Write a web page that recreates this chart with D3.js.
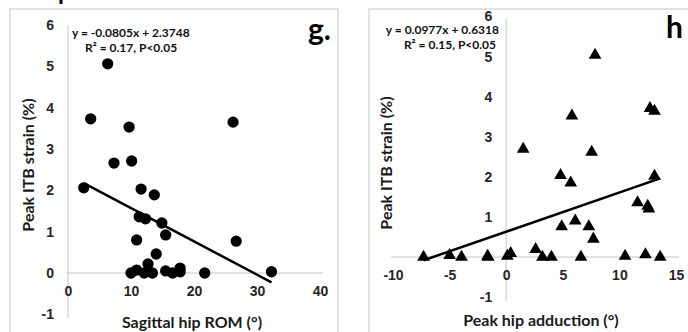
<!DOCTYPE html>
<meta charset="utf-8">
<style>
body { margin: 0; background: #fff; }
svg { font-family: Lato, "Open Sans", sans-serif; font-weight: bold; }
.frame { fill: none; stroke: #d9d9d9; stroke-width: 1.5; }
.zero { stroke: #d9d9d9; stroke-width: 1.5; }
.tick text { font-size: 14px; fill: #262626; }
.eq { font-size: 12px; fill: #111; }
.title { font-size: 16px; fill: #1a1a1a; }
.trend { stroke: #000; stroke-width: 2.5; }
</style>
<svg width="688" height="332"></svg>
<script src="https://cdn.jsdelivr.net/npm/d3@7"></script>
<script>

// panel g: sagittal hip ROM vs peak ITB strain
var romX = [6.3, 3.6, 9.7, 26.2, 7.3, 10.1, 2.5, 11.6, 13.7, 11.3, 12.3, 14.9, 15.5, 10.9, 26.7, 14.0, 12.7,
            10.0, 10.9, 12.1, 13.4, 15.5, 16.6, 17.8, 17.8, 21.7, 32.3];
var romY = [5.06, 3.73, 3.53, 3.65, 2.66, 2.71, 2.06, 2.03, 1.89, 1.36, 1.31, 1.21, 0.92, 0.80, 0.77, 0.46, 0.22,
            0, 0.07, 0, 0, 0.05, 0, 0.12, 0.03, 0, 0.03];
var romFit = [-0.0805, 2.3748];

// panel h: peak hip adduction vs peak ITB strain
var addX = [7.85, 5.8, 12.7, 13.1, 1.5, 7.55, 4.8, 5.7, 13.1, 11.6, 12.5, 12.6, 4.9, 6.1, 7.3, 7.7,
            6.6, 10.5, 12.3, 13.6, 3.2, 4.0, -7.3, -5.0, -3.95, -1.65, -1.6, 0.1, 0.4, 2.6];
var addY = [5.04, 3.52, 3.71, 3.64, 2.69, 2.62, 2.04, 1.85, 2.02, 1.36, 1.27, 1.20, 0.76, 0.90, 0.76, 0.45,
            0, 0.02, 0.06, 0, 0, 0, 0, 0.04, 0, 0.02, 0, 0.02, 0.09, 0.19];
var addFit = [0.0977, 0.6318];

var yTicks = [-1, 0, 1, 2, 3, 4, 5, 6];
var yTicksH = [-1, 1, 2, 3, 4, 5, 6];
var romTicks = [0, 10, 20, 30, 40];
var addTicks = [-10, -5, 0, 5, 10, 15];

var svg = d3.select("svg");

// bit of the caption letter above, cut off by the crop
svg.append("text").attr("x", 58).attr("y", 0).style("font-size", "24px").text("p");

svg.append("rect").attr("class", "frame").attr("x", 10).attr("y", 9).attr("width", 328).attr("height", 340);
svg.append("rect").attr("class", "frame").attr("x", 369).attr("y", 9).attr("width", 340).attr("height", 340);

var fmt = function(d) { return d < 0 ? "-" + Math.abs(d) : String(d); };

function panel(opt) {
  var x = d3.scaleLinear().domain(opt.xDom).range(opt.xRange);
  var y = d3.scaleLinear().domain([0, 6]).range(opt.yRange);
  var g = svg.append("g");

  g.append("line").attr("class", "zero")
      .attr("x1", x(opt.xDom[0]) - 2).attr("x2", x(opt.xDom[1]) + 3)
      .attr("y1", y(0)).attr("y2", y(0));
  g.append("line").attr("class", "zero")
      .attr("x1", x(0)).attr("x2", x(0))
      .attr("y1", y(6) + opt.yTop).attr("y2", y(-1) + 4);

  var ya = g.append("g").attr("transform", "translate(" + x(0) + ",0)")
      .call(d3.axisLeft(y).tickValues(opt.yTicks).tickSize(0).tickPadding(opt.yPad).tickFormat(fmt));
  ya.select(".domain").remove();

  var xa = g.append("g").attr("transform", "translate(0," + y(0) + ")")
      .call(d3.axisBottom(x).tickValues(opt.xTicks).tickSize(0).tickPadding(13).tickFormat(fmt));
  xa.select(".domain").remove();
  g.selectAll(".tick text").attr("font-family", null).attr("font-size", null);

  var xe = d3.extent(opt.xs);
  g.append("line").attr("class", "trend")
      .attr("x1", x(xe[0])).attr("y1", y(opt.fit[0] * xe[0] + opt.fit[1]))
      .attr("x2", x(xe[1])).attr("y2", y(opt.fit[0] * xe[1] + opt.fit[1]));

  g.selectAll(".pt").data(opt.xs).enter().append("path")
      .attr("d", d3.symbol().type(opt.symbol).size(opt.symSize))
      .attr("transform", function(d, i) { return "translate(" + x(d) + "," + y(opt.ys[i]) + ")"; })
      .attr("fill", "#000");

  g.append("text").attr("class", "title").attr("text-anchor", "middle")
      .attr("x", opt.xTitle[0]).attr("y", opt.xTitle[1]).text(opt.xLabel);
  g.append("text").attr("class", "title").attr("text-anchor", "middle")
      .attr("transform", "translate(" + opt.yTitle[0] + "," + opt.yTitle[1] + ") rotate(-90)")
      .text("Peak ITB strain (%)");

  g.append("text").attr("class", "eq").attr("text-anchor", opt.eqAnchor)
      .attr("x", opt.eq[0]).attr("y", opt.eq[1]).text(opt.eqLines[0]);
  g.append("text").attr("class", "eq").attr("text-anchor", opt.eqAnchor)
      .attr("x", opt.eq[2]).attr("y", opt.eq[1] + 15).text(opt.eqLines[1]);

  g.append("text").attr("x", opt.letter[0]).attr("y", opt.letter[1])
      .style("font-size", "30px").text(opt.letterText);
}

panel({
  xDom: [0, 40], xRange: [68, 320], yRange: [273, 25], yTop: 0, yPad: 14,
  xs: romX, ys: romY, fit: romFit, yTicks: yTicks, xTicks: romTicks,
  symbol: d3.symbolCircle, symSize: 100,
  xLabel: "Sagittal hip ROM (\u00b0)", xTitle: [192, 328], yTitle: [34, 165],
  eqAnchor: "start", eq: [72, 37, 85],
  eqLines: ["y = -0.0805x + 2.3748", "R\u00b2 = 0.17, P<0.05"],
  letter: [308, 40], letterText: "g."
});

panel({
  xDom: [-10, 15], xRange: [393, 676], yRange: [257, 16.5], yTop: 2, yPad: 14,
  xs: addX, ys: addY, fit: addFit, yTicks: yTicksH, xTicks: addTicks,
  symbol: d3.symbolTriangle, symSize: 70,
  xLabel: "Peak hip adduction (\u00b0)", xTitle: [541, 326], yTitle: [392, 163],
  eqAnchor: "end", eq: [499, 34, 496],
  eqLines: ["y = 0.0977x + 0.6318", "R\u00b2 = 0.15, P<0.05"],
  letter: [666, 38], letterText: "h"
});

</script>
